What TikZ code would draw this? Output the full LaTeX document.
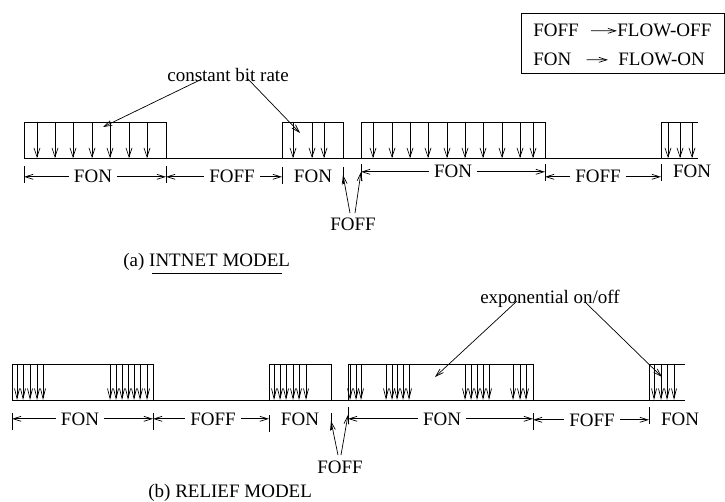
\documentclass[tikz,border=0pt]{standalone}
\usepackage{fontspec}
\setmainfont{Liberation Serif}
\usetikzlibrary{arrows.meta}

\begin{document}
\begin{tikzpicture}[x=1pt, y=-1pt, line width=0.7pt,
        >={Straight Barb[length=8pt,width=5pt]},
        every node/.style = {font=\fontsize{19}{22}\selectfont, inner sep=5pt},
        lbl/.style = {anchor=base},
        key/.style = {anchor=base west, inner sep=0pt},
        pulse/.style = {->, >={Straight Barb[length=9pt,width=6pt]}},
        burst/.style = {->, >={Straight Barb[length=10pt,width=5pt]}},
    ]
        \useasboundingbox (0,0) rectangle (725,502);

        % legend
        \draw (521,13) rectangle (724,73);
        \node[key] (kf)  at (533,37) {FOFF};
        \node[key] (kfo) at (617,37) {FLOW-OFF};
        \node[key] (kn)  at (533,66) {FON};
        \node[key] (kno) at (618,66) {FLOW-ON};
        \draw[->] ([xshift=12pt]kf.east) -- (kfo.west);
        \draw[->] ([xshift=15pt]kn.east) -- ([xshift=-10pt]kno.west);

        % (a) intnet model
        \draw (24,158) -- (698,158);
        \draw (24,158) |- (166,122) -- (166,158);
        \draw (282,158) |- (343,122) -- (343,158);
        \draw (361,158) |- (545,122) -- (545,158);
        \draw (661,158) |- (698,122);
        \foreach \x in {37,55,73,92,110,129,147,293,312,324,
                373,392,410,428,447,465,483,502,520,533,668,680,692}
            \draw[pulse] (\x,122) -- (\x,158);

        \foreach \n/\x/\y in {a0/24/174, a1/166/174, a2/282/175, a3/343/175,
                a4/361/172, a5/545/172, a6/661/172} {
            \coordinate (\n) at (\x,\y);
            \draw (\n) ++(0,-8) -- ++(0,17);
        }
        \node[lbl] (on1)  at (93,183)  {FON};
        \node[lbl] (off1) at (232,183) {FOFF};
        \node[lbl] (on2)  at (313,183) {FON};
        \node[lbl] (on3)  at (453,178) {FON};
        \node[lbl] (off2) at (598,183) {FOFF};
        \node[lbl] (on4)  at (692,178) {FON};
        \draw[->] (on1) -- (on1 -| a0);
        \draw[->] (on1) -- (on1 -| a1);
        \draw[->] (off1) -- (off1 -| a1);
        \draw[->] (off1) -- (off1 -| a2);
        \draw[->] (on3) -- (on3 -| a4);
        \draw[->] (on3) -- (on3 -| a5);
        \draw[->] (off2) -- (off2 -| a5);
        \draw[->] (off2) -- (off2 -| a6);

        \node[lbl] (gapa) at (353,231) {FOFF};
        \draw[->] ([xshift=-3pt]gapa.north) -- (a3);
        \draw[->] ([xshift=2pt]gapa.north) -- (a4);

        \node[lbl] (cbr) at (228,82) {constant bit rate};
        \coordinate (c1) at (103,127);
        \coordinate (c2) at (300,133);
        \draw[->] ([shift={(-26pt,3pt)}]cbr.base) -- (c1);
        \draw[->] ([shift={(19pt,4pt)}]cbr.base) -- (c2);

        \node[key] (capa) at (123,267) {(a) INTNET MODEL};
        \draw (152,273) -- (282,273);

        % (b) relief model
        \draw (12,400) -- (685,400);
        \draw (12,400) |- (153,364) -- (153,400);
        \draw (269,400) |- (331,364) -- (331,400);
        \draw (348,400) |- (533,364) -- (533,400);
        \draw (649,400) |- (685,364);
        \foreach \x in {17,23,30,37,43,110,116,122,128,134,140,147,
                274,280,286,293,299,306,350,356,361,386,392,397,403,409,
                465,471,477,483,489,513,520,526,654,661,667,674}
            \draw[burst] (\x,364) -- (\x,400);

        \foreach \n/\x/\y in {b0/12/421, b1/153/421, b2/269/423, b3/331/421,
                b4/348/415, b5/533/421, b6/649/415} {
            \coordinate (\n) at (\x,\y);
            \draw (\n) ++(0,-8) -- ++(0,17);
        }
        \node[lbl] (on5)  at (80,425)  {FON};
        \node[lbl] (off3) at (213,425) {FOFF};
        \node[lbl] (on6)  at (300,425) {FON};
        \node[lbl] (on7)  at (442,425) {FON};
        \node[lbl] (off4) at (592,426) {FOFF};
        \node[lbl] (on8)  at (680,425) {FON};
        \draw[->] (on5) -- (on5 -| b0);
        \draw[->] (on5) -- (on5 -| b1);
        \draw[->] (off3) -- (off3 -| b1);
        \draw[->] (off3) -- (off3 -| b2);
        \draw[->] (on7) -- (on7 -| b4);
        \draw[->] (on7) -- (on7 -| b5);
        \draw[->] (off4) -- (off4 -| b5);
        \draw[->] (off4) -- (off4 -| b6);

        \node[lbl] (gapb) at (340,473) {FOFF};
        \draw[->] ([xshift=-2pt]gapb.north) -- (b3);
        \draw[->] ([xshift=1pt]gapb.north) -- (b4);

        \node[lbl] (expo) at (550,304) {exponential on/off};
        \coordinate (e1) at (435,377);
        \coordinate (e2) at (662,377);
        \draw[->] ([shift={(-33pt,3pt)}]expo.base) -- (e1);
        \draw[->] ([shift={(35pt,2pt)}]expo.base) -- (e2);

        \node[key] (capb) at (148,497) {(b) RELIEF MODEL};
\end{tikzpicture}
\end{document}
